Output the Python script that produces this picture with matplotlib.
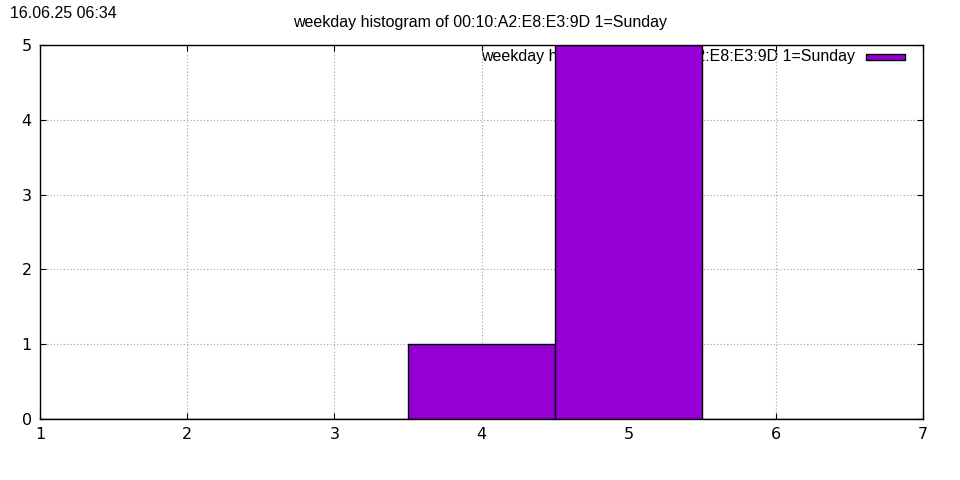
import numpy as np
import matplotlib
matplotlib.use("Agg")
import matplotlib.pyplot as plt

# weekday counts (1=Sunday)
weekdays = [1, 2, 3, 4, 5, 6, 7]
counts = [0, 0, 0, 1, 5, 0, 0]
title = "weekday histogram of 00:10:A2:E8:E3:9D 1=Sunday"
stamp = "16.06.25 06:34"
bar_color = "#9400d3"

fig = plt.figure(figsize=(9.6, 4.8), dpi=100)
ax = fig.add_axes([40 / 960, 1 - 419 / 480, 883 / 960, 374 / 480])

ax.bar(weekdays, counts, width=1.0, color=bar_color, edgecolor="black",
       linewidth=1.0, zorder=3, label=title)

ax.set_xlim(1, 7)
ax.set_ylim(0, 5)
ax.set_xticks(np.arange(1, 8, 1))
ax.set_yticks(np.arange(0, 6, 1))
ax.grid(True, color="#a0a0a0", linestyle=(0, (1, 2)), linewidth=0.8, zorder=0)
ax.tick_params(direction="in", length=4, top=True, right=True, labelsize=11.5,
               pad=6, width=0.8)
for s in ax.spines.values():
    s.set_linewidth(1.0)
    s.set_zorder(4)

# legend drawn under the bars, like the original
ax.text((855 - 40) / 883, 1 - (56 - 45) / 374, title, transform=ax.transAxes,
        ha="right", va="center", fontsize=11.5, family="Liberation Sans", zorder=1)
ax.add_patch(plt.Rectangle(((866 - 40) / 883, 1 - (60 - 45) / 374), 39 / 883, 6 / 374,
                           transform=ax.transAxes, facecolor=bar_color,
                           edgecolor="black", linewidth=1.0, zorder=1))

fig.text(0.5, 1 - 22 / 480, title, ha="center", va="center", fontsize=11.5,
         family="Liberation Sans")
fig.text(10 / 960, 1 - 13 / 480, stamp, ha="left", va="center", fontsize=11.5,
         family="Liberation Sans")

fig.savefig("out.png", dpi=100)
